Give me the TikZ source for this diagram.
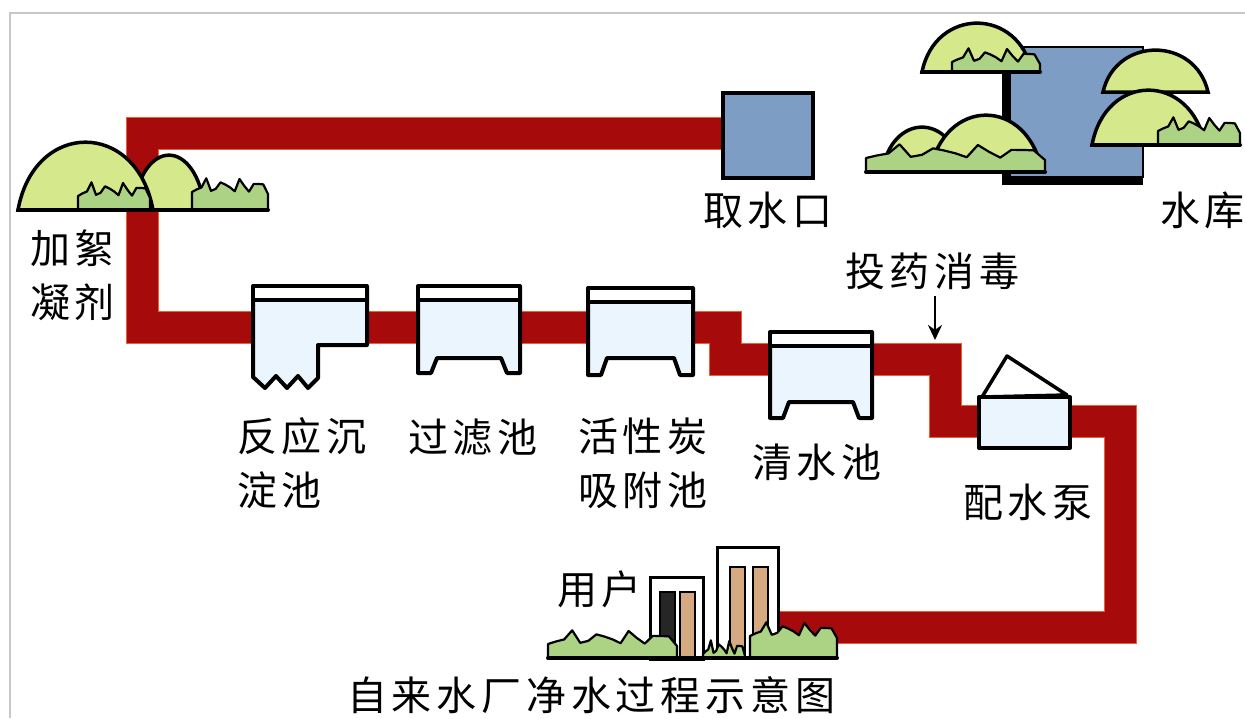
\documentclass[tikz,border=0pt]{standalone}
\usepackage{fontspec}
\newfontfamily\cjk[LetterSpace=12]{Noto Sans CJK SC}
\usetikzlibrary{arrows.meta}

\definecolor{pipered}{RGB}{166,10,10}
\definecolor{pipeedge}{RGB}{232,96,52}
\definecolor{lakeblue}{RGB}{126,157,197}
\definecolor{tankfill}{RGB}{234,245,253}
\definecolor{domefill}{RGB}{214,232,140}
\definecolor{bushfill}{RGB}{172,210,132}
\definecolor{towerfill}{RGB}{214,170,128}
\definecolor{framegray}{RGB}{200,200,200}

\tikzset{
  lbl/.style={font=\cjk\fontsize{40}{54}\selectfont, inner sep=0pt, align=left, anchor=west},
  pipeline/.style={line width=31pt, draw=pipered, line join=miter},
  pipehalo/.style={line width=33pt, draw=pipeedge, line join=miter},
  tank/.style={fill=tankfill, draw=black, line width=4pt, line join=round},
  roof/.style={fill=white, draw=black, line width=3.5pt, line join=round},
  lake/.style={fill=lakeblue, draw=black, line width=1.5pt},
  tower/.style={fill=white, draw=black, line width=3pt},
  stripe/.style={fill=towerfill, draw=black, line width=2pt},
  groundline/.style={draw=black, line width=4pt, line cap=round},
  doseArrow/.style={draw=black, line width=2.6pt, -{Stealth[length=15pt,width=14pt]}},
}

% rounded tree crown: left x, right x, base y, top y
\newcommand\hilldome[4]{%
  \filldraw[fill=domefill, draw=black, line width=3.5pt]
    (#1,#3) .. controls ({#1+0.12*(#2-#1)},{#3-1.33*(#3-#4)})
              and ({#2-0.12*(#2-#1)},{#3-1.33*(#3-#4)}) .. (#2,#3) -- cycle;}

% shrub band with a clumpy top: left x, right x, base y, top y
\newcommand\bushband[4]{%
  \filldraw[fill=bushfill, draw=black, line width=2.2pt, line join=round]
    (#1,#3) -- (#1,#4+6)
    \foreach \k [evaluate=\k as \bx using #1+\k*(#2-#1)/16,
                 evaluate=\k as \by using #4+5*sin(\k*97)+3*sin(\k*211)] in {1,...,15}
      { -- (\bx,\by) }
    -- (#2,#4+8) -- (#2,#3) -- cycle;}

% basin with a raised floor: left x, right x, top y, bottom y, floor y
\newcommand\basin[5]{%
  \filldraw[tank] (#1,#3) -- (#2,#3) -- (#2,#4) -- (#2-13,#4) -- (#2-19,#5)
    -- (#1+19,#5) -- (#1+13,#4) -- (#1,#4) -- cycle;
  \fill[white] (#1+2,#3+2) rectangle (#2-2,#3+12);
  \draw[black, line width=4pt] (#1,#3+14) -- (#2,#3+14);}

\begin{document}
\begin{tikzpicture}[x=1pt, y=-1pt]
\useasboundingbox (0,0) rectangle (1245,718);

% frame
\draw[framegray, line width=2pt] (10,718) -- (10,12.5) -- (1245,12.5);

% pipe route
\coordinate (pIntake) at (745,133);
\coordinate (pA) at (142.5,133);
\coordinate (pB) at (142.5,327);
\coordinate (pC) at (725,327);
\coordinate (pD) at (725,359);
\coordinate (pE) at (945,359);
\coordinate (pF) at (945,421);
\coordinate (pG) at (1120,421);
\coordinate (pH) at (1120,627);
\coordinate (pUser) at (765,627);
\draw[pipehalo] (pIntake) -- (pA) -- (pB) -- (pC) -- (pD) -- (pE) -- (pF) -- (pG) -- (pH) -- (pUser);
\draw[pipeline] (pIntake) -- (pA) -- (pB) -- (pC) -- (pD) -- (pE) -- (pF) -- (pG) -- (pH) -- (pUser);

% water intake
\filldraw[lake, line width=3.5pt] (723,93) rectangle (813,178);
\node[lbl] (intakeLbl) at (703,210) {取水口};

% reservoir
\fill[black] (1002,47) rectangle (1143,185);
\filldraw[lake] (1010,47) rectangle (1143,177);
\hilldome{1103}{1208}{92}{50}
\hilldome{1092}{1205}{145}{90}
\bushband{1158}{1240}{145}{125}
\draw[groundline] (1092,145) -- (1240,145);
\hilldome{922}{1032}{72}{23}
\bushband{952}{1040}{72}{56}
\draw[groundline] (922,72) -- (1040,72);
\hilldome{882}{962}{172}{127}
\hilldome{930}{1042}{172}{115}
\bushband{866}{1045}{172}{152}
\draw[groundline] (866,172) -- (1045,172);
\node[lbl] (lakeLbl) at (1160,210) {水库};

% coagulant dosing point
\hilldome{133}{205}{210}{155}
\hilldome{18}{153}{210}{142}
\bushband{78}{150}{210}{190}
\bushband{192}{268}{210}{186}
\draw[groundline] (18,210) -- (268,210);
\node[lbl] (coagLbl) at (30,275) {加絮\\凝剂};

% flocculation and sedimentation basin
\filldraw[tank] (253,286) -- (367,286) -- (367,345) -- (318,345) -- (318,378)
  -- (308,388) -- (298,376) -- (287,388) -- (276,376) -- (265,388) -- (253,377) -- cycle;
\fill[white] (255,288) rectangle (365,298);
\draw[black, line width=4pt] (253,300) -- (367,300);
\node[lbl] (settleLbl) at (237,463) {反应沉\\淀池};

% filter, activated carbon and clear water basins
\basin{418}{520}{286}{373}{358}
\node[lbl] (filterLbl) at (408,437) {过滤池};
\basin{588}{693}{288}{375}{358}
\node[lbl] (carbonLbl) at (578,463) {活性炭\\吸附池};
\basin{770}{872}{332}{418}{402}
\node[lbl] (clearLbl) at (752,462) {清水池};

% disinfection
\node[lbl] (doseLbl) at (845,271) {投药消毒};
\coordinate (doseTop) at (935,296);
\coordinate (dosePipe) at (935,340);
\draw[doseArrow] (doseTop) -- (dosePipe);

% distribution pump
\filldraw[roof] (982,397) -- (1007,356) -- (1067,395) -- cycle;
\filldraw[tank] (979,397) rectangle (1070,448);
\node[lbl] (pumpLbl) at (963,502) {配水泵};

% consumers
\filldraw[tower] (717,547) rectangle (778,657);
\filldraw[stripe] (730,567) rectangle (745,657);
\filldraw[stripe] (753,567) rectangle (768,657);
\filldraw[tower] (650,577) rectangle (703,659);
\filldraw[stripe, fill=black!85] (660,592) rectangle (675,659);
\filldraw[stripe] (680,592) rectangle (695,659);
\bushband{548}{677}{658}{638}
\bushband{703}{745}{658}{648}
\bushband{750}{837}{658}{630}
\draw[groundline] (548,658) -- (837,658);
\node[lbl] (userLbl) at (557,589) {用户};

% caption
\node[lbl] (captionLbl) at (347,695) {自来水厂净水过程示意图};
\end{tikzpicture}
\end{document}
